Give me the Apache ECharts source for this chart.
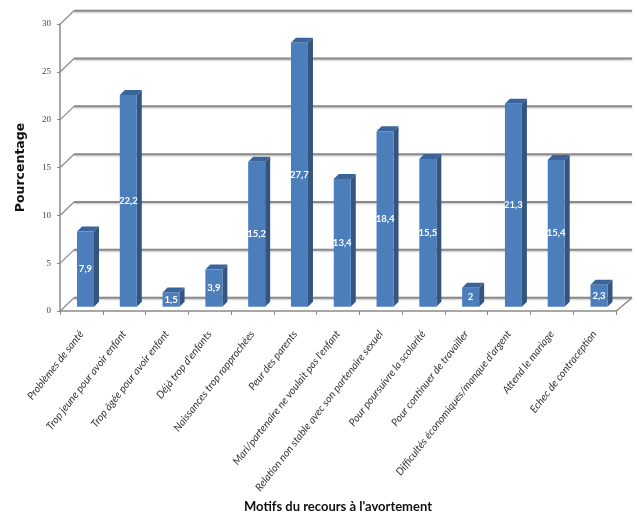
<!DOCTYPE html>
<html>
<head>
<meta charset="utf-8">
<script src="https://cdn.jsdelivr.net/npm/echarts@6/dist/echarts.min.js"></script>
<style>
  html, body { margin: 0; padding: 0; background: #fff; }
  #chart { width: 637px; height: 515px; }
</style>
</head>
<body>
<div id="chart"></div>
<script>
// Motifs du recours à l'avortement (%)
const categories = [
  "Problèmes de santé",
  "Trop jeune pour avoir enfant",
  "Trop âgée pour avoir enfant",
  "Déjà trop d'enfants",
  "Naissances trop rapprochées",
  "Peur des parents",
  "Mari/partenaire ne voulait pas l'enfant",
  "Relation non stable avec son partenaire sexuel",
  "Pour poursuivre la scolarité",
  "Pour continuer de travailler",
  "Difficultés économiques/manque d'argent",
  "Attend le mariage",
  "Echec de contraception"
];
const values = [7.9, 22.2, 1.5, 3.9, 15.2, 27.7, 13.4, 18.4, 15.5, 2, 21.3, 15.4, 2.3];
const yTicks = [0, 5, 10, 15, 20, 25, 30];

const yMin = 0, yMax = 30, yStep = 5;
const gridColor = '#8a8a8a';
const depthX = 14, depthY = -13.5;   // receding offset of the back wall
const barHalf = 8.5, barDx = 5, barDy = -5;

const chart = echarts.init(document.getElementById('chart'), null, { renderer: 'canvas' });

function fmt(v) { return String(v).replace('.', ','); }

chart.setOption({
  backgroundColor: '#ffffff',
  animation: false,
  grid: [
    // 0: back wall (gridlines)
    { left: 74, right: 5, top: 10.7, bottom: 217.3, containLabel: false, outerBoundsMode: 'none' },
    // 1: front axes
    { left: 60, right: 21, top: 24, bottom: 204, containLabel: false, outerBoundsMode: 'none' },
    // 2: bars (set slightly into the depth)
    { left: 64.1, right: 16.6, top: 20.7, bottom: 208.3, containLabel: false, outerBoundsMode: 'none' }
  ],
  xAxis: [
    { gridIndex: 0, type: 'value', min: 0, max: 1, show: false },
    {
      gridIndex: 1, type: 'category', data: categories,
      axisLine: { show: true, lineStyle: { color: gridColor, width: 1.5 } },
      axisTick: { show: true, length: 4, lineStyle: { color: gridColor } },
      axisLabel: {
        rotate: 52, interval: 0, margin: 21,
        fontFamily: 'Lato', fontStyle: 'italic', fontSize: 10.5, color: '#333'
      },
      name: "Motifs du recours à l'avortement",
      nameLocation: 'middle', nameGap: 188,
      nameTextStyle: { fontFamily: 'Lato', fontWeight: 'bold', fontSize: 13, color: '#111' }
    },
    { gridIndex: 2, type: 'category', data: categories, show: false }
  ],
  yAxis: [
    { gridIndex: 0, type: 'value', min: yMin, max: yMax, interval: yStep, show: false },
    {
      gridIndex: 1, type: 'value', min: yMin, max: yMax, interval: yStep,
      axisLine: { show: true, lineStyle: { color: gridColor, width: 1.5 } },
      axisTick: { show: true, length: 3, lineStyle: { color: gridColor } },
      splitLine: { show: false },
      axisLabel: { fontFamily: 'Liberation Serif', fontSize: 9, color: '#444', margin: 9 },
      name: 'Pourcentage', nameLocation: 'middle', nameGap: 33, nameRotate: 90,
      nameTextStyle: { fontFamily: 'DejaVu Sans', fontWeight: 'bold', fontSize: 12.5, color: '#111' }
    },
    { gridIndex: 2, type: 'value', min: yMin, max: yMax, show: false }
  ],
  series: [
    {
      // back-wall gridlines, side-wall diagonals and floor edge
      type: 'custom', xAxisIndex: 0, yAxisIndex: 0, silent: true, z: 1,
      data: yTicks,
      renderItem: function (params, api) {
        const v = api.value(0);
        const a = api.coord([0, v]);
        const b = api.coord([1, v]);
        const children = [
          { type: 'line', shape: { x1: a[0], y1: a[1], x2: b[0], y2: b[1] },
            style: { stroke: gridColor, lineWidth: 2, shadowColor: 'rgba(0,0,0,0.25)', shadowBlur: 2, shadowOffsetY: 1 } },
          { type: 'line', shape: { x1: a[0], y1: a[1], x2: a[0] - depthX, y2: a[1] - depthY },
            style: { stroke: gridColor, lineWidth: 1.2 } }
        ];
        if (v === yMin) {
          children.push({ type: 'line',
            shape: { x1: b[0], y1: b[1], x2: b[0] - depthX - 2, y2: b[1] - depthY },
            style: { stroke: gridColor, lineWidth: 1.5 } });
        }
        return { type: 'group', children: children };
      }
    },
    {
      // 3D bars: front face, side face and top face
      type: 'custom', xAxisIndex: 2, yAxisIndex: 2, z: 5,
      data: values.map((v, i) => [i, v]),
      renderItem: function (params, api) {
        const top = api.coord([api.value(0), api.value(1)]);
        const base = api.coord([api.value(0), 0]);
        const c = top[0], yt = top[1], yb = base[1];
        const l = c - barHalf, r = c + barHalf;
        return {
          type: 'group',
          children: [
            { type: 'polygon',
              shape: { points: [[r, yt], [r + barDx, yt + barDy], [r + barDx, yb + barDy], [r, yb]] },
              style: { fill: '#34557f' } },
            { type: 'polygon',
              shape: { points: [[l, yt], [l + barDx, yt + barDy], [r + barDx, yt + barDy], [r, yt]] },
              style: { fill: '#3b649a' } },
            { type: 'rect', shape: { x: l, y: yt, width: r - l, height: yb - yt },
              style: { fill: '#4d7ebc' } },
            { type: 'text',
              style: { x: c, y: (yt + yb) / 2, text: fmt(api.value(1)), align: 'center', verticalAlign: 'middle',
                fill: '#fff', fontFamily: 'Lato', fontWeight: 'bold', fontSize: 9.5 } }
          ]
        };
      }
    },
    // keeps the front category axis active
    { type: 'bar', xAxisIndex: 1, yAxisIndex: 1, data: [], silent: true }
  ]
});
</script>
</body>
</html>
